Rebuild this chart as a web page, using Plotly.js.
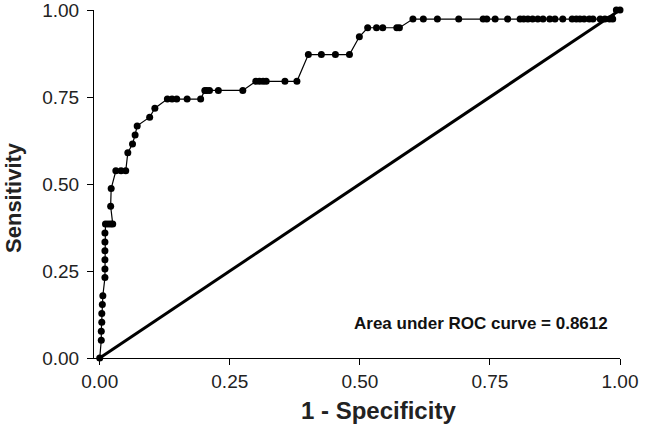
<!DOCTYPE html>
<html>
<head>
<meta charset="utf-8">
<script src="https://cdn.plot.ly/plotly-3.0.1.min.js"></script>
<style>html,body{margin:0;padding:0;background:#fff;}#chart{width:664px;height:438px;}</style>
</head>
<body>
<div id="chart"></div>
<script>
// ROC curve points (1 - specificity, sensitivity)
const fpr = [0.000, 0.003, 0.003, 0.004, 0.004, 0.005, 0.006, 0.010, 0.010, 0.010, 0.010, 0.010, 0.010, 0.011,
  0.016, 0.021, 0.025, 0.021, 0.022, 0.031, 0.041, 0.050, 0.054, 0.063, 0.068, 0.072, 0.096, 0.106,
  0.130, 0.139, 0.148, 0.168, 0.194, 0.202, 0.206, 0.211, 0.228, 0.275,
  0.300, 0.307, 0.314, 0.320, 0.356, 0.379, 0.401, 0.426, 0.453, 0.480, 0.499,
  0.515, 0.532, 0.544, 0.571, 0.576,
  0.602, 0.622, 0.649, 0.690, 0.737, 0.744, 0.760, 0.784, 0.808, 0.815, 0.823, 0.832, 0.842, 0.852,
  0.865, 0.875, 0.890, 0.908, 0.916, 0.923, 0.931, 0.941, 0.948, 0.962, 0.971, 0.980, 0.986,
  0.993, 1.000];
const tpr = [0.000, 0.051, 0.077, 0.103, 0.128, 0.154, 0.179, 0.231, 0.256, 0.282, 0.308, 0.333, 0.359, 0.385,
  0.385, 0.385, 0.385, 0.436, 0.487, 0.538, 0.538, 0.538, 0.590, 0.615, 0.641, 0.667, 0.692, 0.718,
  0.744, 0.744, 0.744, 0.744, 0.744, 0.769, 0.769, 0.769, 0.769, 0.769,
  0.795, 0.795, 0.795, 0.795, 0.795, 0.795, 0.872, 0.872, 0.872, 0.872, 0.923,
  0.949, 0.949, 0.949, 0.949, 0.949,
  0.974, 0.974, 0.974, 0.974, 0.974, 0.974, 0.974, 0.974, 0.974, 0.974, 0.974, 0.974, 0.974, 0.974,
  0.974, 0.974, 0.974, 0.974, 0.974, 0.974, 0.974, 0.974, 0.974, 0.974, 0.974, 0.974, 0.974,
  1.000, 1.000];
// reference (chance) line
const diagX = [0, 1];
const diagY = [0, 1];
const tickVals = [0, 0.25, 0.5, 0.75, 1.0];
const tickText = ["0.00", "0.25", "0.50", "0.75", "1.00"];
const xTitle = "1 - Specificity";
const yTitle = "Sensitivity";
const aucLabel = "Area under ROC curve = 0.8612";

const FONT = '"Liberation Sans", Arial, Helvetica, sans-serif';

const traces = [
  {x: diagX, y: diagY, mode: 'lines', line: {color: '#000', width: 3}, hoverinfo: 'skip', cliponaxis: false},
  {x: fpr, y: tpr, mode: 'lines+markers', line: {color: '#000', width: 1.2},
   marker: {color: '#000', size: 7}, cliponaxis: false}
];

const axisCommon = {
  showgrid: false, zeroline: false,
  showline: true, linecolor: '#000', linewidth: 1,
  ticks: 'outside', ticklen: 6, tickcolor: '#000', tickwidth: 1,
  tickvals: tickVals, ticktext: tickText, ticklabeloverflow: 'allow',
  tickfont: {family: FONT, size: 19, color: '#222'}
};

const layout = {
  width: 664, height: 438,
  margin: {l: 94, r: 44, t: 10, b: 80},
  paper_bgcolor: '#fff', plot_bgcolor: '#fff',
  showlegend: false,
  font: {family: FONT, size: 18, color: '#222'},
  xaxis: Object.assign({range: [-0.011, 1.0]}, axisCommon),
  yaxis: Object.assign({range: [0, 1.0], ticklabelstandoff: 4}, axisCommon),
  annotations: [
    {x: 0.98, y: 0.10, xref: 'x', yref: 'y', xanchor: 'right', yanchor: 'middle',
     text: '<b>' + aucLabel + '</b>', showarrow: false,
     font: {family: FONT, size: 17, color: '#111'}},
    {x: 0.54, y: -0.15, xref: 'paper', yref: 'paper', xanchor: 'center', yanchor: 'middle',
     text: '<b>' + xTitle + '</b>', showarrow: false,
     font: {family: FONT, size: 24, color: '#222'}},
    {x: -0.152, y: 0.46, xref: 'paper', yref: 'paper', xanchor: 'center', yanchor: 'middle',
     textangle: -90, text: '<b>' + yTitle + '</b>', showarrow: false,
     font: {family: FONT, size: 22, color: '#222'}}
  ]
};

Plotly.newPlot('chart', traces, layout, {displayModeBar: false, staticPlot: true});
</script>
</body>
</html>
